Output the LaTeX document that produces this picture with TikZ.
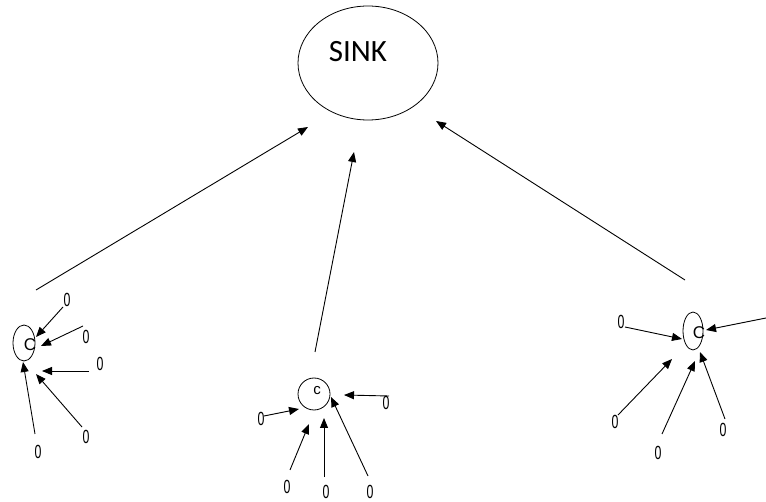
\documentclass[tikz,border=0pt]{standalone}
\usepackage{fontspec}
\setmainfont{Liberation Sans}
\newfontfamily\sinkfont{Carlito}
\usetikzlibrary{arrows.meta}
\begin{document}
\begin{tikzpicture}[x=1pt,y=-1pt,
  link/.style={line width=0.9pt,-{Triangle[length=10pt,width=8pt]}},
  zero/.style={inner sep=0pt,font=\fontsize{19}{19}\selectfont},
  hlabel/.style={inner sep=0pt,font=\fontsize{17}{17}\selectfont}]
\useasboundingbox (0,0) rectangle (766,502);
\newcommand{\zr}{\scalebox{0.65}[1]{0}}

% sink
\draw[line width=0.8pt] (368,63) ellipse [x radius=70, y radius=57];
\node[inner sep=0pt,font=\sinkfont\fontsize{31}{31}\selectfont] (sink) at (358,52) {SINK};

% cluster heads
\draw[line width=0.8pt] (24,343) ellipse [x radius=11, y radius=18];
\node[hlabel] (hl) at (30,345) {C};
\draw[line width=0.8pt] (314,394) circle [radius=16];
\node[hlabel] (hm) at (317,391) {\fontsize{15}{15}\selectfont c};
\draw[line width=0.8pt] (693,331) ellipse [x radius=10, y radius=19];
\node[hlabel] (hr) at (699,333) {C};

% head to sink links
\coordinate (lUp0) at (36,290);  \coordinate (lUp1) at (308,127);
\coordinate (mUp0) at (315,352); \coordinate (mUp1) at (354,152);
\coordinate (rUp0) at (685,280); \coordinate (rUp1) at (436,121);
\draw[link] (lUp0) -- (lUp1);
\draw[link] (mUp0) -- (mUp1);
\draw[link] (rUp0) -- (rUp1);

% left cluster members
\node[zero] (l1) at (67,300) {\zr};
\node[zero] (l2) at (86,337) {\zr};
\node[zero] (l3) at (100,364) {\zr};
\node[zero] (l4) at (86,437) {\zr};
\node[zero] (l5) at (38,452) {\zr};
\coordinate (l1a) at (63,307);  \coordinate (l1b) at (36,337);
\coordinate (l2a) at (83,326);  \coordinate (l2b) at (41,346);
\coordinate (l3a) at (89,371);  \coordinate (l3b) at (42,371);
\coordinate (l4a) at (82,427);  \coordinate (l4b) at (36,374);
\coordinate (l5a) at (35,434);  \coordinate (l5b) at (23,362);
\foreach \k in {1,...,5} \draw[link] (l\k a) -- (l\k b);

% middle cluster members
\node[zero] (m1) at (386,403) {\zr};
\node[zero] (m2) at (261,419) {\zr};
\node[zero] (m3) at (287,487) {\zr};
\node[zero] (m4) at (326,492) {\zr};
\node[zero] (m5) at (370,492) {\zr};
\coordinate (m1a) at (389,396); \coordinate (m1b) at (344,395);
\coordinate (m2a) at (264,416); \coordinate (m2b) at (299,409);
\coordinate (m3a) at (290,470); \coordinate (m3b) at (309,424);
\coordinate (m4a) at (324,477); \coordinate (m4b) at (324,418);
\coordinate (m5a) at (368,476); \coordinate (m5b) at (331,397);
\foreach \k in {1,...,5} \draw[link] (m\k a) -- (m\k b);

% right cluster members (the last label runs past the right edge)
\node[zero] (r1) at (621,322) {\zr};
\node[zero] (r2) at (770,319) {\zr};
\node[zero] (r3) at (615,422) {\zr};
\node[zero] (r4) at (658,453) {\zr};
\node[zero] (r5) at (723,430) {\zr};
\coordinate (r1a) at (625,327); \coordinate (r1b) at (682,339);
\coordinate (r2a) at (766,318); \coordinate (r2b) at (706,330);
\coordinate (r3a) at (618,415); \coordinate (r3b) at (672,359);
\coordinate (r4a) at (662,434); \coordinate (r4b) at (695,361);
\coordinate (r5a) at (725,419); \coordinate (r5b) at (700,352);
\foreach \k in {1,...,5} \draw[link] (r\k a) -- (r\k b);
\end{tikzpicture}
\end{document}
